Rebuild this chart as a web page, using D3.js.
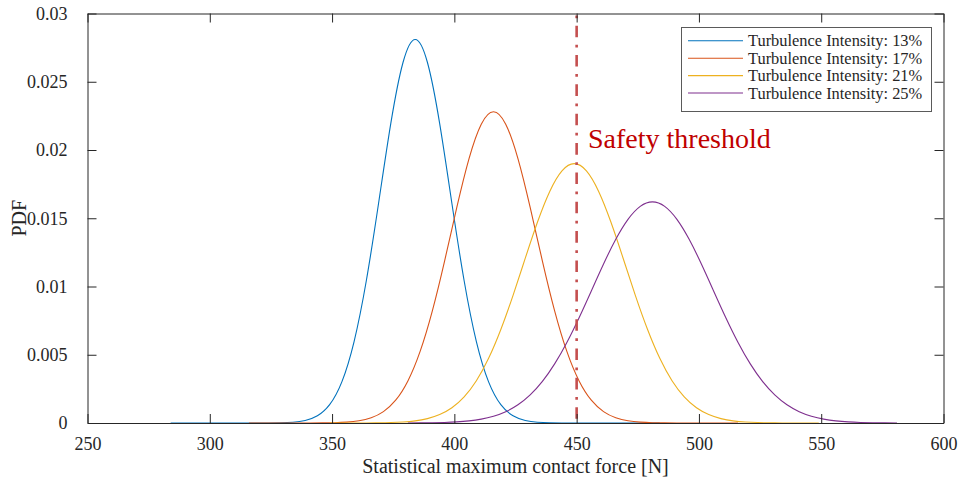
<!DOCTYPE html>
<html>
<head>
<meta charset="utf-8">
<script src="https://cdn.jsdelivr.net/npm/d3@7"></script>
<style>
  html, body { margin: 0; padding: 0; background: #fff; }
  svg { display: block; }
  text { font-family: "Liberation Serif", "Times New Roman", serif; fill: #262626; }
</style>
</head>
<body>
<svg id="chart" width="961" height="481"></svg>
<script>
// Sampled PDF curves of the statistical maximum contact force [N]
const seriesNames = [
  "Turbulence Intensity: 13%",
  "Turbulence Intensity: 17%",
  "Turbulence Intensity: 21%",
  "Turbulence Intensity: 25%"
];
const seriesColors = ["#0072BD", "#D95319", "#EDB120", "#7E2F8E"];

const forceTI13 = [284,289,294,299,304,309,314,319,324,329,334,339,344,349,354,359,364,369,374,379,384,
                   389,394,399,404,409,414,419,424,429,434,439,444,449,454,459,464,469,474,479,484];
const pdfTI13 = [0,0,0,0,0,0,0,0,0.000004,0.000016,0.000057,0.000185,0.000532,0.001347,0.003015,0.005966,
                 0.010420,0.016080,0.021930,0.026410,0.028100,
                 0.026410,0.021930,0.016080,0.010420,0.005966,0.003015,0.001347,0.000532,0.000185,0.000057,
                 0.000016,0.000004,0,0,0,0,0,0,0,0];

const forceTI17 = [316,321,326,331,336,341,346,351,356,361,366,371,376,381,386,391,396,401,406,411,416,
                   421,426,431,436,441,446,451,456,461,466,471,476,481,486,491,496,501,506,511,516];
const pdfTI17 = [0,0,0,0,0,0.000002,0.000008,0.000023,0.000064,0.000163,0.000385,0.000836,0.001673,0.003086,
                 0.005246,0.008219,0.011865,0.015791,0.019366,0.021888,0.022800,
                 0.021888,0.019366,0.015791,0.011865,0.008219,0.005246,0.003086,0.001673,0.000836,0.000385,
                 0.000163,0.000064,0.000023,0.000008,0.000002,0,0,0,0,0];

const forceTI21 = [349,354,359,364,369,374,379,384,389,394,399,404,409,414,419,424,429,434,439,444,449,
                   454,459,464,469,474,479,484,489,494,499,504,509,514,519,524,529,534,539,544,549];
const pdfTI21 = [0,0.000001,0.000002,0.000005,0.000013,0.000032,0.000074,0.000158,0.000321,0.000616,0.001116,
                 0.001913,0.003097,0.004738,0.006850,0.009354,0.012073,0.014722,0.016963,0.018469,0.019000,
                 0.018469,0.016963,0.014722,0.012073,0.009354,0.006850,0.004738,0.003097,0.001913,0.001116,
                 0.000616,0.000321,0.000158,0.000074,0.000032,0.000013,0.000005,0.000002,0.000001,0];

const forceTI25 = [381,386,391,396,401,406,411,416,421,426,431,436,441,446,451,456,461,466,471,476,481,
                   486,491,496,501,506,511,516,521,526,531,536,541,546,551,556,561,566,571,576,581];
const pdfTI25 = [0.000004,0.000010,0.000020,0.000042,0.000083,0.000157,0.000285,0.000498,0.000833,0.001338,
                 0.002063,0.003051,0.004332,0.005901,0.007714,0.009677,0.011650,0.013457,0.014918,0.015870,
                 0.016200,
                 0.015870,0.014918,0.013457,0.011650,0.009677,0.007714,0.005901,0.004332,0.003051,0.002063,
                 0.001338,0.000833,0.000498,0.000285,0.000157,0.000083,0.000042,0.000020,0.000010,0.000004];

const xTicks = [250, 300, 350, 400, 450, 500, 550, 600];
const yTicks = [0, 0.005, 0.01, 0.015, 0.02, 0.025, 0.03];
const yTickLabels = ["0", "0.005", "0.01", "0.015", "0.02", "0.025", "0.03"];
const thresholdForce = 450;
const thresholdLabel = "Safety threshold";
const xTitle = "Statistical maximum contact force [N]";
const yTitle = "PDF";

const forces = [forceTI13, forceTI17, forceTI21, forceTI25];
const pdfs = [pdfTI13, pdfTI17, pdfTI21, pdfTI25];

// ---- layout ----
const plotLeft = 87.5, plotRight = 943.5, plotTop = 13.5, plotBottom = 423;
const svg = d3.select("#chart");

const x = d3.scaleLinear().domain([250, 600]).range([plotLeft, plotRight]);
const y = d3.scaleLinear().domain([0, 0.03]).range([plotBottom, plotTop]);

const tickLen = 9;
const axisColor = "#262626";

// Curves
const line = d3.line()
  .x(d => x(d[0]))
  .y(d => y(d[1]))
  .curve(d3.curveNatural);

const plot = svg.append("g");
forces.forEach((fx, i) => {
  const pts = fx.map((f, j) => [f, pdfs[i][j]]);
  plot.append("path")
    .datum(pts)
    .attr("fill", "none")
    .attr("stroke", seriesColors[i])
    .attr("stroke-width", 1.1)
    .attr("d", line);
});

// Safety threshold (dash-dot)
svg.append("line")
  .attr("x1", x(thresholdForce)).attr("x2", x(thresholdForce))
  .attr("y1", y(0.03)).attr("y2", y(0))
  .attr("stroke", "#C44F4F")
  .attr("stroke-width", 2.6)
  .attr("stroke-dasharray", "11.6 7.5 2.75 7.5")
  .attr("stroke-dashoffset", 17.2);

svg.append("text")
  .attr("x", 588)
  .attr("y", 147.5)
  .style("font-size", "28px")
  .style("fill", "#C00000")
  .text(thresholdLabel);

// Axes (box with inward ticks on all four sides)
function styleAxis(g) {
  g.attr("font-family", null);
  g.select(".domain").attr("stroke", axisColor).attr("stroke-width", 1);
  g.selectAll(".tick line").attr("stroke", axisColor).attr("stroke-width", 1);
}

const xAxisB = d3.axisBottom(x).tickValues(xTicks).tickSizeInner(-tickLen).tickSizeOuter(0)
  .tickPadding(14).tickFormat(d3.format("d"));
svg.append("g").attr("transform", `translate(0,${plotBottom})`).call(xAxisB)
  .call(styleAxis)
  .call(g => g.selectAll(".tick text").style("font-size", "18px"));

const xAxisT = d3.axisTop(x).tickValues(xTicks).tickSizeInner(-tickLen).tickSizeOuter(0).tickFormat("");
svg.append("g").attr("transform", `translate(0,${plotTop})`).call(xAxisT).call(styleAxis);

const yAxisL = d3.axisLeft(y).tickValues(yTicks).tickSizeInner(-tickLen).tickSizeOuter(0)
  .tickPadding(20).tickFormat((d, i) => yTickLabels[i]);
svg.append("g").attr("transform", `translate(${plotLeft},0)`).call(yAxisL)
  .call(styleAxis)
  .call(g => g.selectAll(".tick text").style("font-size", "18px"));

const yAxisR = d3.axisRight(y).tickValues(yTicks).tickSizeInner(-tickLen).tickSizeOuter(0).tickFormat("");
svg.append("g").attr("transform", `translate(${plotRight},0)`).call(yAxisR).call(styleAxis);

svg.selectAll(".tick text").attr("fill", axisColor);

// Axis titles
svg.append("text")
  .attr("x", (plotLeft + plotRight) / 2)
  .attr("y", 473)
  .attr("text-anchor", "middle")
  .style("font-size", "20px")
  .text(xTitle);

svg.append("text")
  .attr("transform", `translate(26,${(plotTop + plotBottom) / 2}) rotate(-90)`)
  .attr("text-anchor", "middle")
  .style("font-size", "20px")
  .text(yTitle);

// Legend
const legend = svg.append("g");
legend.append("rect")
  .attr("x", 681.5).attr("y", 27.5)
  .attr("width", 250).attr("height", 84)
  .attr("fill", "#fff")
  .attr("stroke", "#5a5a5a")
  .attr("stroke-width", 1);

seriesNames.forEach((name, i) => {
  const cy = 40.8 + i * 17.4;
  legend.append("line")
    .attr("x1", 688).attr("x2", 743)
    .attr("y1", cy).attr("y2", cy)
    .attr("stroke", seriesColors[i])
    .attr("stroke-width", 1.1);
  legend.append("text")
    .attr("x", 748)
    .attr("y", cy + 5.5)
    .style("font-size", "16.4px")
    .text(name);
});
</script>
</body>
</html>
